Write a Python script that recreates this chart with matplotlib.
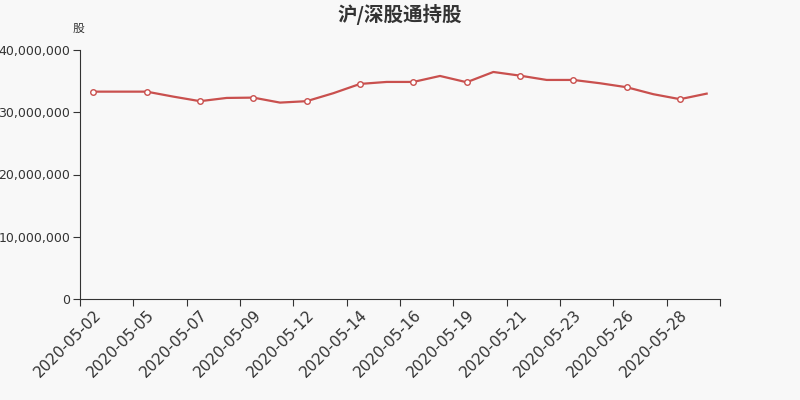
import matplotlib
matplotlib.use("Agg")
import matplotlib.pyplot as plt
from matplotlib.ticker import FuncFormatter

plt.rcParams['font.family'] = ['DejaVu Sans', 'Noto Sans CJK SC']

# 日期（交易日）
dates = ['2020-05-02', '2020-05-04', '2020-05-05', '2020-05-06', '2020-05-07', '2020-05-08',
         '2020-05-09', '2020-05-11', '2020-05-12', '2020-05-13', '2020-05-14', '2020-05-15',
         '2020-05-16', '2020-05-18', '2020-05-19', '2020-05-20', '2020-05-21', '2020-05-22',
         '2020-05-23', '2020-05-25', '2020-05-26', '2020-05-27', '2020-05-28', '2020-05-29']

# 持股数（股）
shares = [33310000, 33310000, 33310000, 32510000, 31780000, 32300000,
          32350000, 31550000, 31780000, 33060000, 34550000, 34870000,
          34870000, 35830000, 34820000, 36470000, 35880000, 35190000,
          35190000, 34660000, 34020000, 32900000, 32100000, 32990000]

bg = '#f8f8f8'
txt = '#333333'
line_color = '#c9504e'

fig = plt.figure(figsize=(8, 4), dpi=100, facecolor=bg)
ax = fig.add_axes([0.1, 0.2525, 0.8, 0.6225], facecolor=bg)

x = list(range(len(dates)))
ax.plot(x, shares, color=line_color, lw=1.6, marker='o', markevery=2,
        ms=4, mfc='white', mec=line_color, mew=1, zorder=3)

ax.set_xlim(-0.5, len(dates) - 0.5)
ax.set_ylim(0, 40000000)
ax.set_yticks([0, 10000000, 20000000, 30000000, 40000000])
ax.yaxis.set_major_formatter(FuncFormatter(lambda v, p: f'{int(v):,}'))

# 刻度在类目边界，标签在类目中心
ax.set_xticks([i - 0.5 for i in range(0, len(dates) + 1, 2)])
ax.set_xticklabels([])
ax.set_xticks(x[::2], minor=True)
ax.set_xticklabels(dates[::2], minor=True, rotation=45, ha='right',
                   rotation_mode='anchor', fontsize=11, color=txt)
ax.tick_params(axis='x', which='minor', length=0, pad=6)
ax.tick_params(axis='x', which='major', length=5, color=txt)
ax.tick_params(axis='y', length=5, color=txt, labelsize=9, labelcolor=txt, pad=2)

for s in ['top', 'right']:
    ax.spines[s].set_visible(False)
for s in ['left', 'bottom']:
    ax.spines[s].set_color(txt)

fig.text(0.5, 0.965, '沪/深股通持股', ha='center', va='center',
         family=['Noto Sans CJK SC', 'DejaVu Sans'],
         fontsize=14, fontweight='bold', color=txt)
fig.text(0.098, 0.928, '股', ha='center', va='center',
         family=['Noto Sans CJK SC', 'DejaVu Sans'], fontsize=8.5, color=txt)

fig.savefig('out.png', dpi=100, facecolor=bg)
